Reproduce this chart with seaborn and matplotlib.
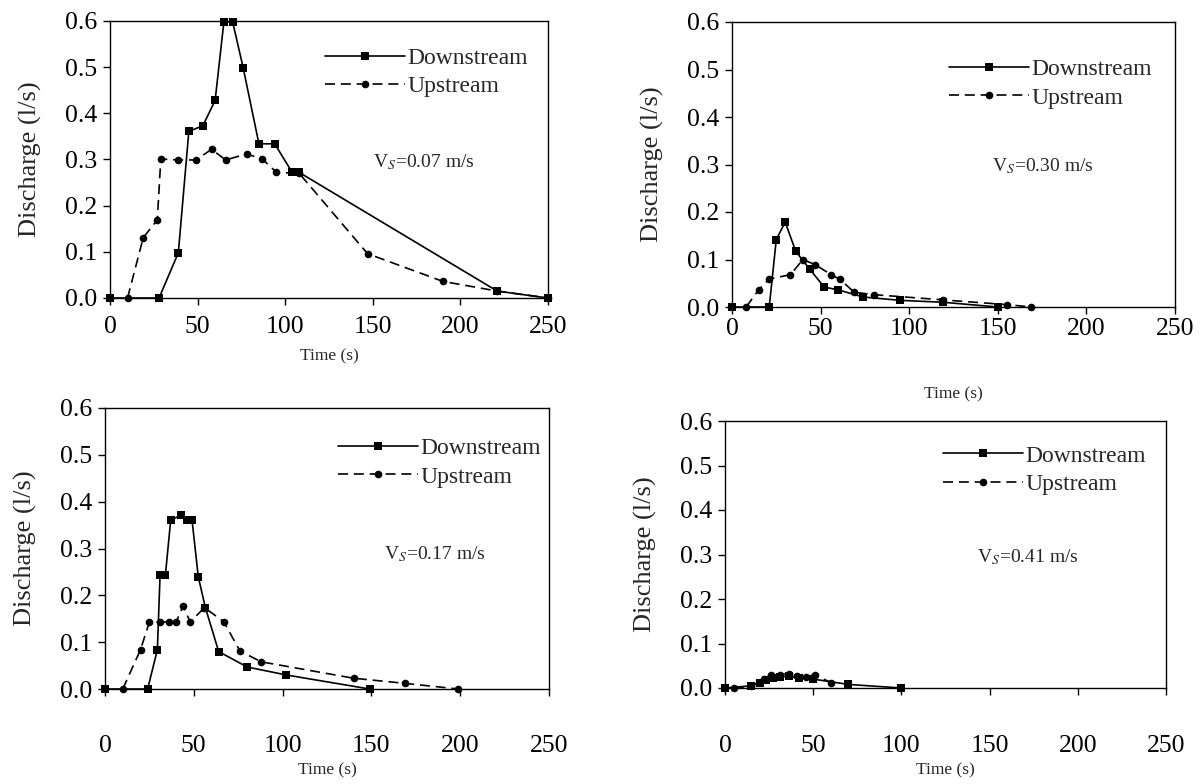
"""Discharge hydrographs, downstream vs upstream, for four settling velocities."""

import matplotlib
matplotlib.use("Agg")

import matplotlib.pyplot as plt
import pandas as pd
import seaborn as sns

# ── Data ────────────────────────────────────────────────────────────

down1_t = [0, 28, 39, 45, 53, 60, 65, 70, 76, 85, 94, 104, 108, 221, 250]
down1_q = [0, 0, 0.098, 0.361, 0.373, 0.428, 0.598, 0.598, 0.499, 0.334,
           0.334, 0.272, 0.272, 0.015, 0]
up1_t = [10, 19, 27, 29, 39, 49, 58, 66, 78, 87, 95, 108, 147, 190, 221, 250]
up1_q = [0, 0.131, 0.169, 0.301, 0.299, 0.299, 0.322, 0.299, 0.312, 0.301,
         0.272, 0.27, 0.096, 0.036, 0.015, 0]

down2_t = [0, 21, 25, 30, 36, 44, 52, 60, 74, 95, 119, 150]
down2_q = [0, 0, 0.142, 0.179, 0.117, 0.079, 0.042, 0.036, 0.021, 0.014,
           0.01, 0]
up2_t = [8, 15, 21, 33, 40, 47, 56, 61, 69, 80, 119, 155, 169]
up2_q = [0, 0.036, 0.059, 0.068, 0.10, 0.089, 0.068, 0.058, 0.031, 0.026,
         0.015, 0.005, 0]

down3_t = [0, 24, 29.5, 31, 34, 37, 43, 46, 49, 52.5, 56.5, 64, 80, 102, 149]
down3_q = [0, 0, 0.084, 0.243, 0.243, 0.361, 0.371, 0.361, 0.361, 0.24,
           0.174, 0.08, 0.047, 0.03, 0]
up3_t = [10, 20, 25, 31, 36, 40, 44, 48, 56, 67, 76, 88, 140, 169, 199]
up3_q = [0, 0.084, 0.143, 0.143, 0.143, 0.143, 0.177, 0.143, 0.174, 0.143,
         0.081, 0.058, 0.023, 0.012, 0]

down4_t = [0, 15, 20, 23, 27, 31, 36, 42, 50, 70, 100]
down4_q = [0, 0.005, 0.012, 0.018, 0.022, 0.025, 0.026, 0.022, 0.02, 0.008, 0]
up4_t = [5, 15, 22, 26, 31, 36, 41, 46, 51, 60]
up4_q = [0, 0.004, 0.02, 0.03, 0.03, 0.032, 0.028, 0.025, 0.03, 0.012]

velocities = ["0.07", "0.30", "0.17", "0.41"]
x_ticks = [0, 50, 100, 150, 200, 250]
y_ticks = [0.0, 0.1, 0.2, 0.3, 0.4, 0.5, 0.6]

# ── Layout (pixel boxes: left, right, top, bottom) ──────────────────

W, H = 1202, 784
PANELS = [
    dict(box=(110, 548, 21, 298), leg=(0.49, 0.905), note=(150, 0.295),
         xpad=8, xlabpad=7.5),
    dict(box=(732, 1175, 22, 307), leg=(0.49, 0.872), note=(147, 0.297),
         xpad=3, xlabpad=33),
    dict(box=(105, 549, 408, 689), leg=(0.525, 0.895), note=(157, 0.288),
         xpad=28, xlabpad=4),
    dict(box=(725, 1166, 421, 688), leg=(0.494, 0.91), note=(143, 0.294),
         xpad=29, xlabpad=4),
]

sns.set_style("ticks")
plt.rcParams["font.family"] = ["Liberation Serif", "DejaVu Serif"]
plt.rcParams["mathtext.fontset"] = "stix"


def draw_panel(fig, spec, down_t, down_q, up_t, up_q, vel):
    l, r, t, b = spec["box"]
    ax = fig.add_axes([l / W, 1 - b / H, (r - l) / W, (b - t) / H])

    down = pd.DataFrame({"t": down_t, "q": down_q})
    up = pd.DataFrame({"t": up_t, "q": up_q})
    sns.lineplot(data=down, x="t", y="q", ax=ax, color="black", lw=1.2,
                 marker="s", markersize=6, markeredgewidth=0,
                 estimator=None, label="Downstream", clip_on=False)
    sns.lineplot(data=up, x="t", y="q", ax=ax, color="black", lw=1.2,
                 marker="o", markersize=5.5, markeredgewidth=0,
                 estimator=None, label="Upstream", clip_on=False,
                 linestyle=(0, (6, 3.5)))

    ax.set_xlim(0, 250)
    ax.set_ylim(0, 0.6)
    ax.set_xticks(x_ticks)
    ax.set_yticks(y_ticks)
    ax.set_yticklabels([f"{v:.1f}" for v in y_ticks])
    for side in ["top", "right", "left", "bottom"]:
        ax.spines[side].set_visible(True)
        ax.spines[side].set_linewidth(1.0)
        ax.spines[side].set_color("black")
    ax.tick_params(axis="both", direction="out", length=5, width=1,
                   labelsize=18.5, colors="black")
    ax.tick_params(axis="x", pad=spec["xpad"])
    ax.tick_params(axis="y", pad=4)
    ax.set_xlabel("Time (s)", fontsize=12.5, labelpad=spec["xlabpad"])
    ax.set_ylabel("Discharge (l/s)", fontsize=19, labelpad=17)

    ax.legend(loc="upper left", bbox_to_anchor=spec["leg"], frameon=False,
              fontsize=17, handlelength=3.4, handletextpad=0.1,
              labelspacing=0.3, borderaxespad=0, borderpad=0, numpoints=1)
    nx, ny = spec["note"]
    ax.text(nx, ny, f"V$_S$={vel} m/s", fontsize=14, va="center",
            ha="left")
    return ax


fig = plt.figure(figsize=(W / 100, H / 100), dpi=100)
series = [
    (down1_t, down1_q, up1_t, up1_q),
    (down2_t, down2_q, up2_t, up2_q),
    (down3_t, down3_q, up3_t, up3_q),
    (down4_t, down4_q, up4_t, up4_q),
]
for spec, data, vel in zip(PANELS, series, velocities):
    draw_panel(fig, spec, *data, vel)

fig.savefig("out.png", dpi=100)
plt.close(fig)
